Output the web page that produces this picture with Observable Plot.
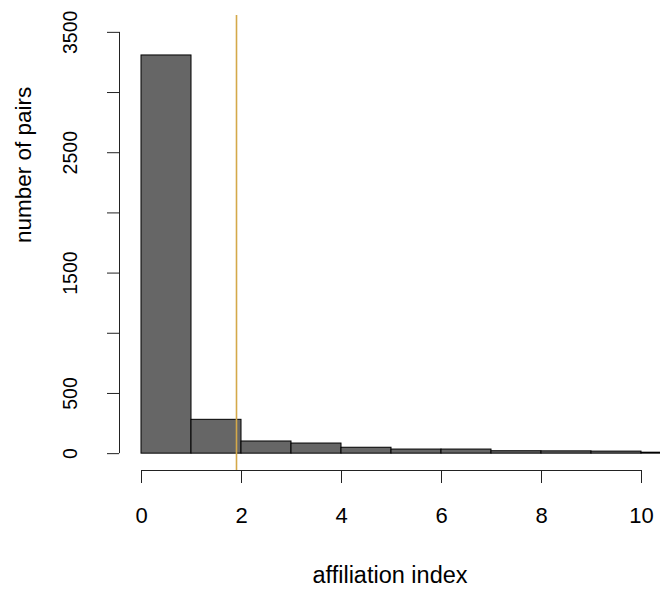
<!DOCTYPE html>
<html>
<head>
<meta charset="utf-8">
<script src="https://cdn.jsdelivr.net/npm/d3@7"></script>
<script src="https://cdn.jsdelivr.net/npm/@observablehq/plot@0.6"></script>
<style>
  html, body { margin: 0; padding: 0; background: #fff; }
  #chart svg { display: block; }
</style>
</head>
<body>
<div id="chart"></div>
<script>
// Histogram bins (left edges, width 1) and counts
const binStarts = [0, 1, 2, 3, 4, 5, 6, 7, 8, 9, 10];
const binCounts = [3308, 281, 101, 84, 49, 34, 34, 20, 19, 17, 8];
const binWidth = 1;

// Reference line (affiliation index)
const refLine = [1.9];

// Axis ticks and labels
const xTicks = [0, 2, 4, 6, 8, 10];
const yTicks = [0, 500, 1000, 1500, 2000, 2500, 3000, 3500];
const yTickLabels = [0, 500, 1500, 2500, 3500];
const xTitle = "affiliation index";
const yTitle = "number of pairs";

const bins = binStarts.map((x0, i) => ({x1: x0, x2: x0 + binWidth, count: binCounts[i]}));

const xDomain = [-0.44, 10.38];
const yDomain = [-140, 3640];
const font = "'Liberation Sans', Arial, Helvetica, sans-serif";

const chart = Plot.plot({
  width: 660,
  height: 590,
  marginLeft: 119,
  marginRight: 0,
  marginTop: 15,
  marginBottom: 120,
  style: {fontFamily: font, color: "#000", background: "#fff", overflow: "hidden"},
  x: {domain: xDomain},
  y: {domain: yDomain},
  marks: [
    Plot.rectY(bins, {x1: "x1", x2: "x2", y: "count", fill: "#666666", stroke: "#000", strokeWidth: 1}),
    Plot.ruleX(refLine, {stroke: "#d4a94a", strokeWidth: 1.6}),
    // axis lines (R style: from first to last tick)
    Plot.ruleY([yDomain[0]], {x1: xTicks[0], x2: xTicks[xTicks.length - 1], stroke: "#222"}),
    Plot.ruleX([xDomain[0]], {y1: yTicks[0], y2: yTicks[yTicks.length - 1], stroke: "#222"}),
    Plot.axisX({ticks: xTicks, tickSize: 13, tickPadding: 24, fontSize: 22, label: null, stroke: "#222"}),
    Plot.axisY({
      ticks: yTicks, tickSize: 12, tickPadding: 31, tickRotate: -90, fontSize: 19.5, label: null, stroke: "#222",
      tickFormat: d => yTickLabels.includes(d) ? String(d) : ""
    }),
    Plot.text([xTitle], {frameAnchor: "bottom", lineAnchor: "bottom", dy: 112, fontSize: 23.5}),
    Plot.text([yTitle], {frameAnchor: "left", rotate: -90, lineAnchor: "bottom", dx: -89, fontSize: 22.5})
  ]
});

document.getElementById("chart").appendChild(chart);
</script>
</body>
</html>
